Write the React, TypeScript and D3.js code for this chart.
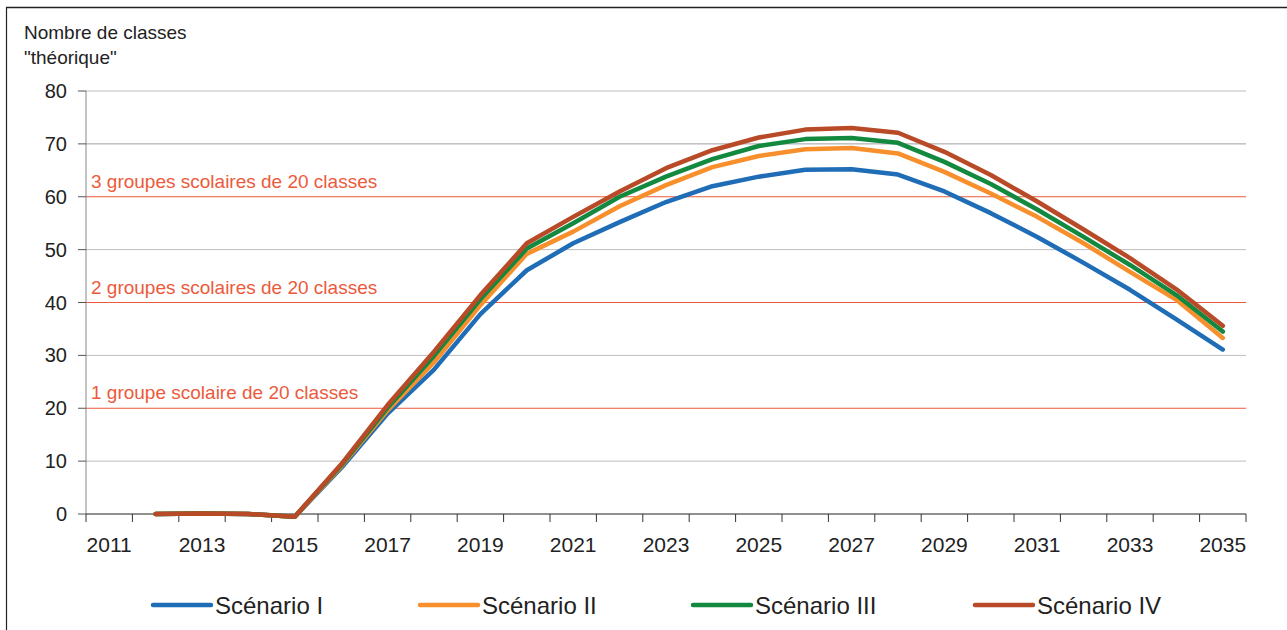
import React from "react";
import * as d3 from "d3";

const years = d3.range(2011, 2036).map(String);
const tickLabels = ["2011","2013","2015","2017","2019","2021","2023","2025","2027","2029","2031","2033","2035"];
const yTicks = [0, 10, 20, 30, 40, 50, 60, 70, 80];
const dataYears = d3.range(2012, 2036).map(String);

const scenarioI = [0, 0.1, 0, -0.5, 8.7, 19.0, 27.3, 37.8, 46.1, 51.2, 55.2, 59.0, 62.0, 63.8, 65.1, 65.2, 64.2, 61.0, 56.9, 52.4, 47.5, 42.4, 36.8, 31.1];
const scenarioII = [0, 0.1, 0, -0.5, 9.0, 19.6, 28.7, 39.5, 49.2, 53.4, 58.2, 62.2, 65.6, 67.7, 69.0, 69.2, 68.2, 64.7, 60.6, 56.2, 51.2, 45.8, 40.5, 33.3];
const scenarioIII = [0, 0.1, 0, -0.5, 9.2, 20.1, 29.9, 40.6, 50.2, 55.0, 60.0, 63.8, 67.1, 69.6, 70.9, 71.1, 70.2, 66.6, 62.4, 57.6, 52.4, 47.1, 41.4, 34.5];
const scenarioIV = [0, 0.1, 0, -0.5, 9.4, 20.6, 30.7, 41.4, 51.2, 56.2, 61.0, 65.4, 68.8, 71.2, 72.7, 73.0, 72.1, 68.5, 64.1, 59.1, 53.8, 48.4, 42.5, 35.6];

const seriesNames = ["Scénario I", "Scénario II", "Scénario III", "Scénario IV"];
const seriesColors = ["#1f6db6", "#f7902c", "#13883f", "#b94a27"];
const seriesValues = [scenarioI, scenarioII, scenarioIII, scenarioIV];

const thresholds = [60, 40, 20];
const thresholdLabels = ["3 groupes scolaires de 20 classes", "2 groupes scolaires de 20 classes", "1 groupe scolaire de 20 classes"];

const FONT = "'Liberation Sans', Arial, sans-serif";
const RED = "#ec5a3c";

export default function App() {
  const W = 1287, H = 630;
  const left = 86, right = 1246, top = 91, bottom = 514;
  const x = d3.scaleBand().domain(years).range([left, right]).paddingInner(0).paddingOuter(0);
  const y = d3.scaleLinear().domain([0, 80]).range([bottom, top]);
  const cx = (yr: string) => (x(yr) as number) + x.bandwidth() / 2;
  const line = d3.line<number>().x((_, i) => cx(dataYears[i])).y((v) => y(v));
  const boundaries = years.map((yr) => x(yr) as number).concat([right]);
  const legendX = [153, 420, 693, 975];

  return (
    <svg width={W} height={H} style={{ position: "absolute", left: 0, top: 0, background: "#fff" }} fontFamily={FONT}>
      <rect x={0} y={0} width={W} height={H} fill="#fff" />
      {/* frame */}
      <line x1={6} x2={W} y1={7.5} y2={7.5} stroke="#222" strokeWidth={1.5} />
      <line x1={6.5} x2={6.5} y1={7} y2={H} stroke="#222" strokeWidth={1.2} />
      {/* axis title */}
      <text x={24} y={39} fontSize={19} fill="#222">Nombre de classes</text>
      <text x={24} y={64} fontSize={19} fill="#222">"théorique"</text>
      {/* gridlines */}
      {yTicks.filter((t) => t !== 0 && !thresholds.includes(t)).map((t) => (
        <line key={t} x1={left} x2={right} y1={y(t)} y2={y(t)} stroke={t === 70 ? "#a0a0a0" : "#bdbdbd"} strokeWidth={1} />
      ))}
      {thresholds.map((t, i) => (
        <g key={t}>
          <line x1={left} x2={right} y1={y(t)} y2={y(t)} stroke={RED} strokeWidth={1} />
          <text x={91} y={y(t) - 9} fontSize={19} fill={RED}>{thresholdLabels[i]}</text>
        </g>
      ))}
      {/* y axis */}
      <line x1={left} x2={left} y1={top} y2={bottom} stroke="#888" strokeWidth={1} />
      {yTicks.map((t) => (
        <g key={t}>
          <line x1={left - 8} x2={left} y1={y(t)} y2={y(t)} stroke="#555" strokeWidth={1} />
          <text x={67} y={y(t) + 7} fontSize={20} textAnchor="end" fill="#222">{t}</text>
        </g>
      ))}
      {/* x axis */}
      <line x1={left} x2={right} y1={bottom} y2={bottom} stroke="#222" strokeWidth={1.2} />
      {boundaries.map((bx, i) => (
        <line key={i} x1={bx} x2={bx} y1={bottom} y2={bottom + 8} stroke="#333" strokeWidth={1} />
      ))}
      {tickLabels.map((t) => (
        <text key={t} x={cx(t)} y={552} fontSize={21} textAnchor="middle" fill="#222">{t}</text>
      ))}
      {/* series */}
      {seriesValues.map((vals, i) => (
        <path key={i} d={line(vals) || ""} fill="none" stroke={seriesColors[i]} strokeWidth={4.5} strokeLinejoin="round" strokeLinecap="round" />
      ))}
      {/* legend */}
      {seriesNames.map((n, i) => (
        <g key={n}>
          <line x1={legendX[i]} x2={legendX[i] + 58} y1={605} y2={605} stroke={seriesColors[i]} strokeWidth={4.5} strokeLinecap="round" />
          <text x={legendX[i] + 62} y={614} fontSize={24} fill="#222">{n}</text>
        </g>
      ))}
    </svg>
  );
}
